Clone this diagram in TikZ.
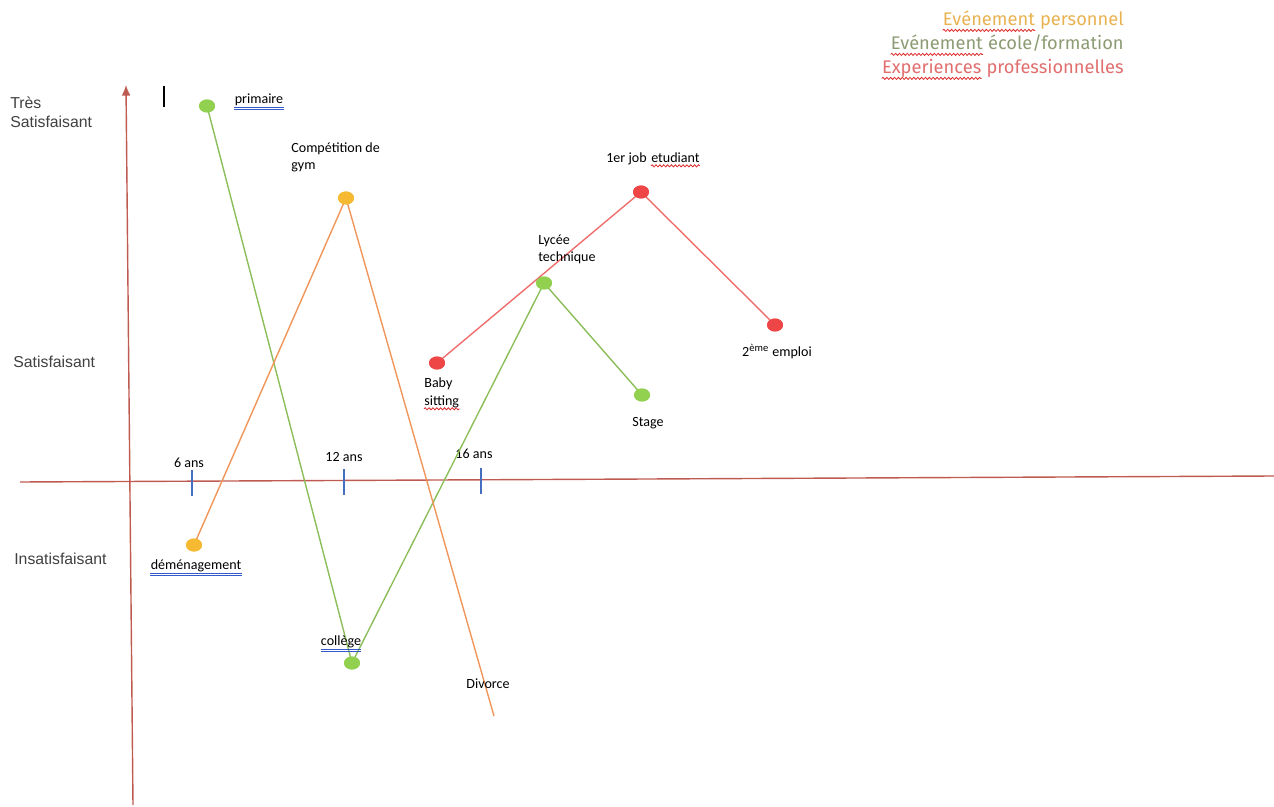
\documentclass[tikz,border=0pt]{standalone}
\usepackage{fontspec}
\setmainfont{Carlito}
\newfontfamily\axisfont{Liberation Sans}
\newfontfamily\legfont{Fira Sans}
\usetikzlibrary{shapes.geometric, arrows.meta, decorations.pathmorphing}
\definecolor{axisred}{RGB}{190,90,80}
\definecolor{tickblue}{RGB}{70,110,190}
\definecolor{lineecole}{RGB}{140,190,90}
\definecolor{lineperso}{RGB}{240,150,90}
\definecolor{linepro}{RGB}{238,110,110}
\definecolor{dotecole}{RGB}{146,208,80}
\definecolor{dotperso}{RGB}{245,185,50}
\definecolor{dotpro}{RGB}{238,70,70}
\definecolor{legperso}{RGB}{232,178,80}
\definecolor{legecole}{RGB}{140,155,115}
\definecolor{legpro}{RGB}{225,110,110}
\definecolor{ulblue}{RGB}{50,90,200}
\definecolor{spellred}{RGB}{220,40,40}
\tikzset{
	dot/.style={ellipse, inner sep=0pt, minimum width=0.32cm, minimum height=0.26cm},
	ecole/.style={dot, fill=dotecole},
	perso/.style={dot, fill=dotperso},
	pro/.style={dot, fill=dotpro},
	lbl/.style={inner sep=0pt, font=\fontsize{8}{9.5}\selectfont, text=black},
	ylbl/.style={inner sep=0pt, anchor=west, align=left, font=\axisfont\fontsize{9}{11}\selectfont, text=black!75},
	leg/.style={inner sep=0pt, anchor=base east, font=\legfont\fontsize{10.4}{12}\selectfont},
	axis/.style={axisred, line width=0.8pt},
	agetick/.style={tickblue, line width=0.8pt},
	% spell check wave and link underline
	spell/.style={spellred, line width=0.45pt, decorate, decoration={snake, amplitude=0.6pt, segment length=2.2pt}},
	link/.style={ulblue, line width=0.45pt},
}

\begin{document}
\begin{tikzpicture}[x=0.02cm, y=-0.02cm]
	\useasboundingbox (0,0) rectangle (1274,807);
	
	% axes
	\coordinate (ybot) at (133,805);
	\coordinate (ytop) at (126,85);
	\coordinate (xleft) at (20,482);
	\coordinate (xright) at (1274,476);
	\draw[axis, -{Latex[length=6pt, width=5pt]}] (ybot) -- (ytop);
	\draw[axis] (xleft) -- (xright);
	\draw[black, line width=1pt] (164,86) -- (164,107);
	
	\foreach \x/\y/\lx/\ly/\age in {192/482/189/463/6, 344/481/344/457/12, 481/480/474/454/16}{
		\draw[agetick] (\x,\y-12) -- (\x,\y+14);
		\node[lbl] at (\lx,\ly) {\age\ ans};
	}
	
	\node (tres) [ylbl] at (10,112) {Très\\Satisfaisant};
	\node (satis) [ylbl] at (13,362) {Satisfaisant};
	\node (insatis) [ylbl] at (14,559) {Insatisfaisant};
	
	% legend
	\node (legp2) [leg, text=legperso] at (1124,26) {personnel};
	\node (legp1) [leg, text=legperso, xshift=-0.26em] at (legp2.base west) {Evénement};
	\node (lege2) [leg, text=legecole] at (1124,50) {école/formation};
	\node (lege1) [leg, text=legecole, xshift=-0.26em] at (lege2.base west) {Evénement};
	\node (legx2) [leg, text=legpro] at (1124,74) {professionnelles};
	\node (legx1) [leg, text=legpro, xshift=-0.26em] at (legx2.base west) {Experiences};
	\foreach \w in {legp1, lege1, legx1}
		\draw[spell] ([yshift=-2.5pt]\w.base west) -- ([yshift=-2.5pt]\w.base east);
	
	% events
	\node (primaire) [ecole] at (207,106) {};
	\node (college) [ecole] at (352,663) {};
	\node (lycee) [ecole] at (544,283) {};
	\node (stage) [ecole] at (642,395) {};
	
	\node (demenag) [perso] at (194,545) {};
	\node (gym) [perso] at (346,198) {};
	\coordinate (divorce) at (494,716);
	
	\node (baby) [pro] at (437,363) {};
	\node (job) [pro] at (641,192) {};
	\node (emploi) [pro] at (775,325) {};
	
	\begin{scope}[line width=0.8pt]
		\draw[lineecole] (primaire.center) -- (college.center) -- (lycee.center) -- (stage.center);
		\draw[lineperso] (demenag.center) -- (gym.center) -- (divorce);
		\draw[linepro] (baby.center) -- (job.center) -- (emploi.center);
	\end{scope}
	
	% redraw dots on top
	\foreach \d/\s in {primaire/ecole, college/ecole, lycee/ecole, stage/ecole, demenag/perso, gym/perso, baby/pro, job/pro, emploi/pro}
		\node[\s] at (\d) {};
	
	% labels
	\node (lprimaire) [lbl] at (259,100) {primaire};
	\node (lcollege) [lbl] at (341,642) {collège};
	\node (ldemenag) [lbl] at (196,566) {déménagement};
	\foreach \w in {lprimaire, lcollege, ldemenag}{
		\draw[link] ([yshift=-2.2pt]\w.base west) -- ([yshift=-2.2pt]\w.base east);
		\draw[link] ([yshift=-3.4pt]\w.base west) -- ([yshift=-3.4pt]\w.base east);
	}
	\node (lgym) [lbl, anchor=west, align=left] at (291,157) {Compétition de\\gym};
	\node (llycee) [lbl, anchor=west, align=left] at (538,249) {Lycée\\technique};
	\node (lstage) [lbl] at (648,423) {Stage};
	\node (ldivorce) [lbl] at (488,684) {Divorce};
	\node (lbaby1) [lbl, anchor=west] at (424,384) {Baby};
	\node (lbaby2) [lbl, anchor=west] at (424,402) {sitting};
	\node (ljob1) [lbl, anchor=west] at (606,159) {1er job};
	\node (ljob2) [lbl, anchor=base west, xshift=0.22em] at (ljob1.base east) {etudiant};
	\foreach \w in {lbaby2, ljob2}
		\draw[spell] ([yshift=-1.8pt]\w.base west) -- ([yshift=-1.8pt]\w.base east);
	\node (lemploi) [lbl] at (777,352) {2\textsuperscript{ème} emploi};
\end{tikzpicture}
\end{document}
